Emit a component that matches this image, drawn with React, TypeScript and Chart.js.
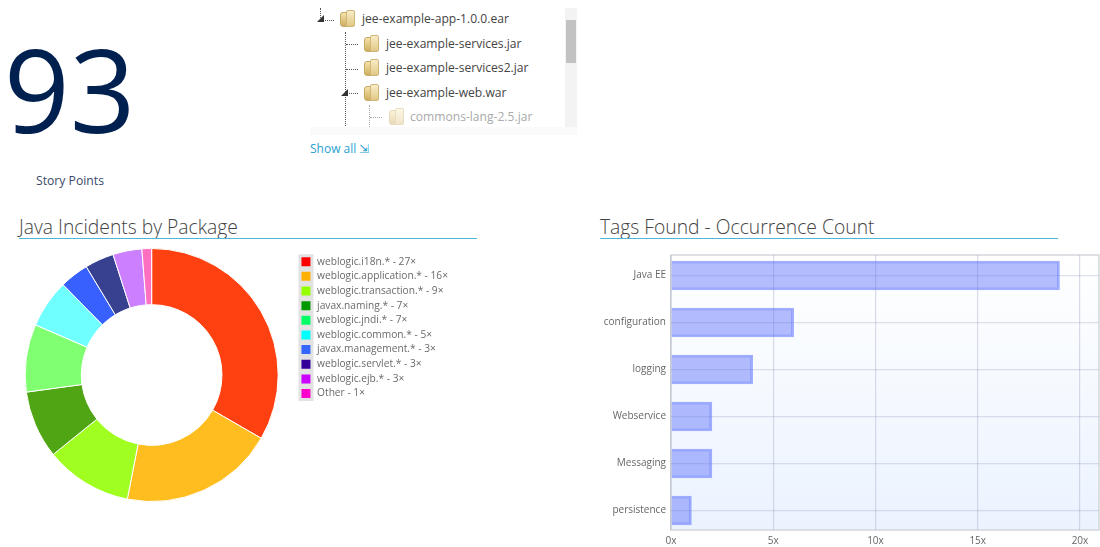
import React, { useEffect, useRef } from "react";
import { Chart, registerables } from "chart.js";

Chart.register(...registerables);

const BIG_NUMBER = "93";
const BIG_NUMBER_LABEL = "Story Points";
const TREE_LABELS = ["jee-example-app-1.0.0.ear", "jee-example-services.jar", "jee-example-services2.jar", "jee-example-web.war", "commons-lang-2.5.jar"];
const SHOW_ALL = "Show all";

const PACKAGE_TITLE = "Java Incidents by Package";
const packageNames = ["weblogic.i18n.*", "weblogic.application.*", "weblogic.transaction.*", "javax.naming.*", "weblogic.jndi.*", "weblogic.common.*", "javax.management.*", "weblogic.servlet.*", "weblogic.ejb.*", "Other"];
const packageCounts = [27, 16, 9, 7, 7, 5, 3, 3, 3, 1];
const sliceColors = ["#ff4010", "#ffbd20", "#a0ff20", "#50a514", "#80ff70", "#70ffff", "#3860ff", "#384090", "#cc80ff", "#ff70c0"];
const legendColors = ["#ff0000", "#ffb000", "#96ff00", "#009900", "#00ff66", "#00ffff", "#3366ff", "#330099", "#cc00ff", "#ff00cc"];

const TAGS_TITLE = "Tags Found - Occurrence Count";
const tagNames = ["Java EE", "configuration", "logging", "Webservice", "Messaging", "persistence"];
const tagCounts = [19, 6, 4, 2, 2, 1];

const FONT = '"Open Sans", sans-serif';

const plotBackground = {
  id: "plotBackground",
  beforeDraw(chart: any) {
    if (!chart.scales.x) return;
    const { ctx, chartArea: a } = chart;
    const g = ctx.createLinearGradient(0, a.top, 0, a.bottom);
    g.addColorStop(0, "#ffffff");
    g.addColorStop(1, "#ebf3ff");
    ctx.save();
    ctx.fillStyle = g;
    ctx.fillRect(a.left, a.top, a.right - a.left, a.bottom - a.top);
    ctx.strokeStyle = "#d4d6da";
    ctx.lineWidth = 1.5;
    ctx.strokeRect(a.left, a.top, a.right - a.left, a.bottom - a.top);
    ctx.restore();
  },
};

function Donut() {
  const ref = useRef<HTMLCanvasElement>(null);
  useEffect(() => {
    const chart = new Chart(ref.current!, {
      type: "doughnut",
      data: {
        labels: packageNames,
        datasets: [{ data: packageCounts, backgroundColor: sliceColors, borderColor: "#ffffff", borderWidth: 1 }],
      },
      options: {
        animation: false,
        responsive: false,
        cutout: "55.6%",
        layout: { padding: 0 },
        plugins: {
          tooltip: { enabled: false },
          legend: {
            position: "right",
            align: "start",
            title: { display: true, text: " ", padding: 0, font: { size: 4.2 } },
            labels: {
              boxWidth: 12,
              boxHeight: 12,
              padding: 2.65,
              color: "#6a6a6a",
              font: { family: FONT, size: 10.2 },
              generateLabels: () =>
                packageNames.map((n, i) => ({
                  text: `${n} - ${packageCounts[i]}×`,
                  fillStyle: legendColors[i],
                  strokeStyle: "#e2e2e2",
                  lineWidth: 3,
                  hidden: false,
                  index: i,
                  fontColor: "#6a6a6a",
                })),
            },
          },
        },
      },
    } as any);
    return () => chart.destroy();
  }, []);
  return <canvas ref={ref} width={452} height={254} style={{ position: "absolute", left: 6, top: 248, width: 452, height: 254 }} />;
}

function Bars() {
  const ref = useRef<HTMLCanvasElement>(null);
  useEffect(() => {
    const chart = new Chart(ref.current!, {
      type: "bar",
      data: {
        labels: tagNames.map((_, i) => i) as any,
        datasets: [
          {
            data: tagCounts,
            backgroundColor: "rgba(88,108,250,0.45)",
            borderColor: "rgba(105,125,255,0.6)",
            borderWidth: 2,
            barThickness: 29,
          },
        ],
      },
      options: {
        animation: false,
        responsive: false,
        indexAxis: "y",
        layout: { padding: { top: 0, right: 1, left: 0, bottom: 0 } },
        plugins: { legend: { display: false }, tooltip: { enabled: false } },
        scales: {
          x: {
            type: "linear",
            min: 0,
            max: 20.93,
            afterFit: (a: any) => { a.height = 17; },
            grid: { color: "rgba(140,150,180,0.32)", lineWidth: 1.2, drawTicks: false },
            border: { display: false },
            ticks: {
              stepSize: 5,
              includeBounds: false,
              maxRotation: 0,
              padding: 5,
              color: "#666",
              font: { family: FONT, size: 10 },
              callback: (v: any) => `${v}x`,
            },
          },
          y: {
            type: "linear",
            reverse: true,
            offset: false,
            min: -0.436,
            max: 5.415,
            afterFit: (a: any) => { a.width = 81; },
            grid: { offset: false, color: "rgba(140,150,180,0.28)", lineWidth: 1.2, drawTicks: false },
            border: { display: false },
            ticks: {
              stepSize: 1,
              includeBounds: false,
              padding: 5,
              color: "#666",
              font: { family: FONT, size: 10 },
              callback: (v: any) => tagNames[v as number] ?? "",
            },
          },
        },
      },
      plugins: [plotBackground],
    } as any);
    return () => chart.destroy();
  }, []);
  return <canvas ref={ref} width={510} height={303} style={{ position: "absolute", left: 590, top: 244, width: 510, height: 303 }} />;
}

const abs = (s: React.CSSProperties): React.CSSProperties => ({ position: "absolute", ...s });

function Folder({ x, y, faded }: { x: number; y: number; faded?: boolean }) {
  return (
    <div style={abs({ left: x, top: y, width: 15, height: 18, opacity: faded ? 0.45 : 1 })}>
      <div style={abs({ left: 0, top: 2, width: 9, height: 15, borderRadius: 3, background: "linear-gradient(#f5e2a8,#cfae62)", border: "1px solid #c6aa6a", boxSizing: "border-box" })} />
      <div style={abs({ left: 6, top: 0, width: 9, height: 17, borderRadius: 2, background: "linear-gradient(#f8edc8,#e2c885)", border: "1px solid #cfb678", boxSizing: "border-box" })} />
    </div>
  );
}

function Tree() {
  const dash = "1px dotted #555";
  const rows = [
    { t: 19, ix: 340, tx: 362, c: "#444" },
    { t: 44, ix: 364, tx: 386, c: "#444" },
    { t: 68, ix: 364, tx: 386, c: "#444" },
    { t: 93, ix: 364, tx: 386, c: "#444" },
    { t: 117, ix: 389, tx: 410, c: "#aaa" },
  ];
  return (
    <>
      <div style={abs({ left: 320, top: 8, height: 12, borderLeft: dash })} />
      <div style={abs({ left: 345, top: 32, height: 96, borderLeft: dash })} />
      <div style={abs({ left: 369, top: 105, height: 22, borderLeft: "1px dotted #aaa" })} />
      {[
        [322, 20, 12],
        [346, 44, 12],
        [346, 69, 12],
        [346, 93, 12],
        [370, 117, 12],
      ].map(([l, t, w], i) => (
        <div key={i} style={abs({ left: l, top: t, width: w, borderTop: i === 4 ? "1px dotted #aaa" : dash })} />
      ))}
      <div style={abs({ left: 317, top: 15, width: 0, height: 0, borderLeft: "7px solid transparent", borderBottom: "7px solid #333" })} />
      <div style={abs({ left: 341, top: 89, width: 0, height: 0, borderLeft: "7px solid transparent", borderBottom: "7px solid #333" })} />
      {rows.map((r, i) => (
        <React.Fragment key={i}>
          <Folder x={r.ix} y={r.t - 9} faded={i === 4} />
          <div style={abs({ left: r.tx, top: r.t - 9, fontFamily: FONT, fontSize: 12.1, lineHeight: "18px", color: r.c, whiteSpace: "nowrap" })}>{TREE_LABELS[i]}</div>
        </React.Fragment>
      ))}
      <div style={abs({ left: 565, top: 8, width: 12, height: 119, background: "#f3f3f3" })} />
      <div style={abs({ left: 566, top: 20, width: 10, height: 43, background: "#c2c2c2" })} />
      <div style={abs({ left: 310, top: 127, width: 267, height: 8, background: "#fafafa" })} />
    </>
  );
}

export default function App() {
  return (
    <div style={abs({ left: 0, top: 0, width: 1100, height: 547, overflow: "hidden", background: "#fff", fontFamily: FONT, filter: "blur(0.45px)" })}>
      <style>{"html,body{margin:0;background:#fff}"}</style>
      <div style={abs({ left: 4, top: 14, fontSize: 115, lineHeight: "150px", fontWeight: 400, color: "#002050" })}>{BIG_NUMBER}</div>
      <div style={abs({ left: 36, top: 172, fontSize: 12.2, lineHeight: "17px", color: "#3b4a6b" })}>{BIG_NUMBER_LABEL}</div>
      <Tree />
      <div style={abs({ left: 310, top: 140, fontSize: 12, lineHeight: "18px", color: "#2b9fd0", whiteSpace: "nowrap" })}>{SHOW_ALL} ⇲</div>
      <div style={abs({ left: 19, top: 213, fontSize: 19.3, lineHeight: "28px", fontWeight: 300, color: "#444" })}>{PACKAGE_TITLE}</div>
      <div style={abs({ left: 19, top: 238, width: 458, height: 1, background: "#4db6d6" })} />
      <div style={abs({ left: 600, top: 213, fontSize: 19.3, lineHeight: "28px", fontWeight: 300, color: "#444" })}>{TAGS_TITLE}</div>
      <div style={abs({ left: 600, top: 238, width: 458, height: 1, background: "#4db6d6" })} />
      <Donut />
      <Bars />
    </div>
  );
}
